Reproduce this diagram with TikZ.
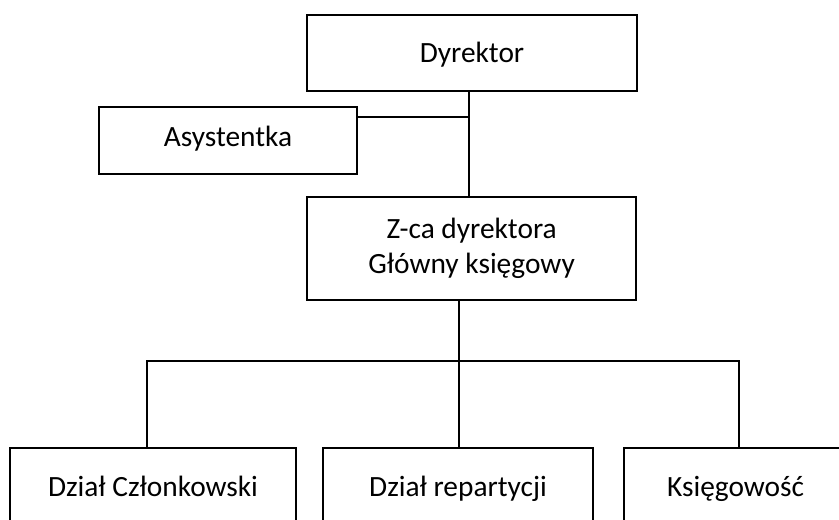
\documentclass[tikz,border=0pt]{standalone}
\usepackage{fontspec}
\setmainfont{Carlito}
\tikzset{
  box/.style={draw, line width=1.3pt, align=center, inner sep=0pt,
    font=\fontsize{20.9}{24.8}\selectfont},
  onebox/.style={box, text height=16pt, text depth=2.5pt},
  link/.style={line width=1pt}
}
\begin{document}
\begin{tikzpicture}
           \clip (0,0) rectangle (20.975,12.975);

           \node[onebox, minimum width=8.25cm, minimum height=1.9cm] (dyrektor) at (11.8,11.65) {Dyrektor};
           \node[onebox, text depth=8.2pt, minimum width=6.45cm, minimum height=1.675cm] (asystentka) at (5.7,9.46) {Asystentka};
           \node[box, minimum width=8.225cm, minimum height=2.575cm] (zca) at (11.79,6.76) {Z-ca dyrektora\\Główny księgowy};
           \node[onebox, minimum width=7.15cm, minimum height=1.95cm] (czlonkowski) at (3.825,0.8) {Dział Członkowski};
           \node[onebox, minimum width=6.75cm, minimum height=1.95cm] (repartycja) at (11.45,0.8) {Dział repartycji};
           \node[onebox, minimum width=5.575cm, minimum height=1.95cm] (ksiegowosc) at (18.39,0.8) {Księgowość};

           \coordinate (pion) at (11.725,10.05);
           \coordinate (szyna) at (11.475,3.95);

           \draw[link] (dyrektor.south -| pion) -- (zca.north -| pion);
           \draw[link] (pion) -- (pion -| asystentka.east);

           \draw[link] (zca.south -| szyna) -- (repartycja.north -| szyna);
           \draw[link] (czlonkowski.north -| 3.675,0) |- (szyna) -| (ksiegowosc.north -| 18.475,0);
\end{tikzpicture}
\end{document}
